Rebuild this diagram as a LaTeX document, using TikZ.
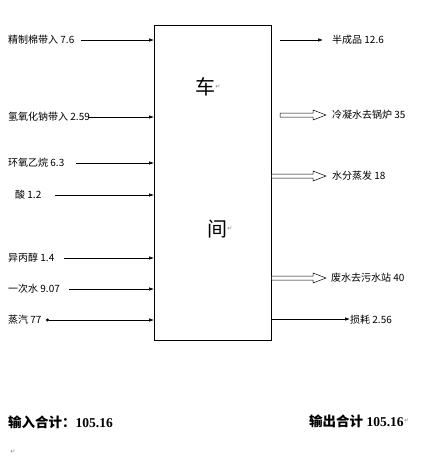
\documentclass[tikz,border=0pt]{standalone}
\usepackage{fontspec}
\setmainfont{Liberation Serif}
\newfontfamily\cjk{Noto Sans CJK SC}
\newfontfamily\symf{DejaVu Sans}
\usetikzlibrary{arrows.meta,calc}
\begin{document}
\begin{tikzpicture}[x=1pt,y=-1pt,
  lbl/.style={anchor=west,inner sep=0pt,font=\cjk\fontsize{10}{11}\selectfont},
  flow/.style={line width=0.6pt,-{Latex[length=5pt,width=3.5pt]}},
  dotflow/.style={line width=0.6pt,{Circle[length=3pt]}-{Latex[length=5pt,width=3.5pt]}},
  hollow/.style={draw=black,fill=white,line width=0.5pt},
  big/.style={inner sep=0pt,font=\cjk\fontsize{20}{22}\selectfont},
  total/.style={anchor=west,inner sep=0pt,font=\fontsize{13.5}{15}\selectfont\bfseries},
  pmark/.style={inner sep=0pt,text=black!50,font=\symf\fontsize{6}{6}\selectfont}]
\useasboundingbox (0,0) rectangle (427,458);
\node[draw,line width=0.7pt,minimum width=117pt,minimum height=315pt,anchor=north west,inner sep=0pt] (box) at (154,25) {};
\node[big] (che) at (205,87) {车};
\node[pmark,anchor=west] (m1) at (che.east) {↵};
\node[big] (jian) at (217,229) {间};
\node[pmark,anchor=west] (m2) at (jian.east) {↵};
% inputs
\node[lbl] (i1) at (8,40) {精制棉带入 7.6};
\node[lbl] (i2) at (8,117) {氢氧化钠带入 2.59};
\node[lbl] (i3) at (8,163) {环氧乙烷 6.3};
\node[lbl] (i4) at (15,195) {酸 1.2};
\node[lbl] (i5) at (8,258) {异丙醇 1.4};
\node[lbl] (i6) at (8,289) {一次水 9.07};
\node[lbl] (i7) at (8,320) {蒸汽 77};
\coordinate (s1) at (81,40);
\coordinate (s2) at (88,117);
\coordinate (s3) at (76,163);
\coordinate (s4) at (55,195);
\coordinate (s5) at (64,258);
\coordinate (s6) at (69,289);
\coordinate (s7) at (46,320);
\foreach \k in {1,...,6} \draw[flow] (s\k) -- (s\k -| box.west);
\draw[dotflow] (s7) -- (s7 -| box.west);
% outputs
\coordinate (o1s) at (280,40);  \coordinate (o1e) at (323,40);
\draw[flow] (o1s) -- (o1e);
\node[lbl] (o1) at (332,40) {半成品 12.6};
\node[lbl] (o2) at (332,115) {冷凝水去锅炉 35};
\node[lbl] (o3) at (332,176) {水分蒸发 18};
\node[lbl] (o4) at (331,278) {废水去污水站 40};
\node[lbl] (o5) at (350,320) {损耗 2.56};
\coordinate (o2s) at (280,115); \coordinate (o2e) at (326,115);
\coordinate (o3s) at (box.east |- o3); \coordinate (o3e) at (326,176);
\coordinate (o4s) at (box.east |- o4); \coordinate (o4e) at (326,278);
\foreach \a/\b in {o2s/o2e,o3s/o3e,o4s/o4e}{
  \path[hollow] let \p1=(\a), \p2=(\b) in
    (\x1,\y1+2pt) -- (\x2-13pt,\y1+2pt) -- (\x2-13pt,\y1+5pt) -- (\x2,\y1)
    -- (\x2-13pt,\y1-5pt) -- (\x2-13pt,\y1-2pt) -- (\x1,\y1-2pt) -- cycle;
}
\coordinate (o5s) at (box.east |- 0,319);
\draw[flow] (o5s) -- (o5.west |- o5s);
% totals
\node[total] (t1) at (8,422) {{\cjk 输入合计：}105.16};
\node[total] (t2) at (309,421) {{\cjk 输出合计} 105.16};
\node[pmark,anchor=west] (m3) at (t2.east) {↵};
\node[pmark] (m4) at (13,452) {↵};
\end{tikzpicture}
\end{document}
